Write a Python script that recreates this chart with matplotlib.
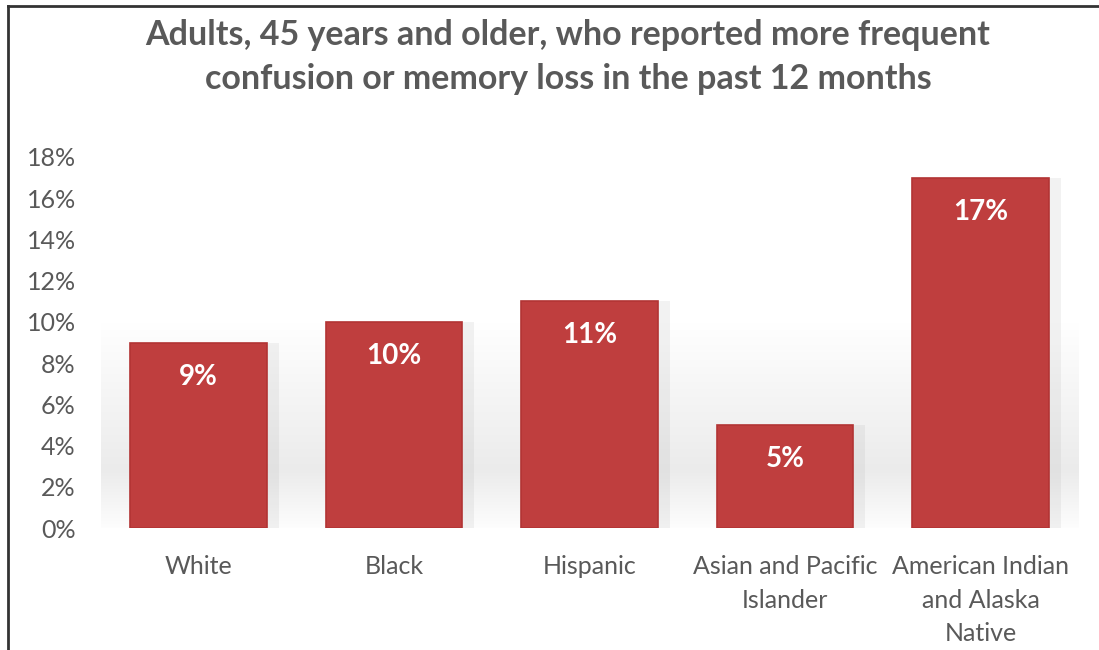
import matplotlib
matplotlib.use("Agg")
import matplotlib.pyplot as plt
import numpy as np

# données
categories = ["White", "Black", "Hispanic", "Asian and Pacific\nIslander",
              "American Indian\nand Alaska\nNative"]
values = [9, 10, 11, 5, 17]
yticks = [0, 2, 4, 6, 8, 10, 12, 14, 16, 18]
title = ("Adults, 45 years and older, who reported more frequent\n"
         "confusion or memory loss in the past 12 months")

plt.rcParams['font.family'] = ['Lato', 'DejaVu Sans']

fig = plt.figure(figsize=(10.99, 6.5), dpi=100)
fig.patch.set_facecolor("white")
ax = fig.add_axes([100.75 / 1099, 1 - 528 / 650, 977.5 / 1099, 371 / 650])
ax.set_facecolor("none")

# léger dégradé gris derrière les barres
grad = np.concatenate([np.linspace(0.0, 1.0, 60), np.linspace(1.0, 0.0, 140)])
gimg = np.zeros((200, 1, 4))
gimg[..., :3] = 0.86
gimg[..., 3] = (grad * 0.55)[:, None]
ax.imshow(gimg, extent=[-0.5, 4.5, -0.3, 10], aspect="auto", origin="lower",
          zorder=0, interpolation="bilinear")

x = np.arange(len(categories))
# ombre portée
ax.bar(x + 0.06, values, width=0.70, color="#9a9a9a", alpha=0.12, zorder=1)
bars = ax.bar(x, values, width=0.70, color="#BF3E3E", edgecolor="#B23434",
              linewidth=1.2, zorder=2)

for xi, v in zip(x, values):
    ax.text(xi, v - 1.65, f"{v}%", ha="center", va="center", color="white",
            fontsize=20, fontweight="bold", zorder=3)

ax.set_xlim(-0.5, len(categories) - 0.5)
ax.set_ylim(0, 18)
ax.set_yticks(yticks)
ax.set_yticklabels([f"{t}%" for t in yticks])
ax.set_xticks(x)
ax.set_xticklabels(categories, linespacing=1.55)
ax.tick_params(axis="both", length=0, labelsize=18, colors="#595959")
ax.tick_params(axis="y", pad=18)
ax.tick_params(axis="x", pad=19.5)
for lab in ax.get_xticklabels():
    lab.set_verticalalignment("top")
for s in ax.spines.values():
    s.set_visible(False)

fig.text(568 / 1099, 1 - 57 / 650, title, ha="center", va="center",
         fontsize=24.5, fontweight="bold", color="#595959", linespacing=1.45)

# cadre (haut et gauche)
fig.add_artist(plt.Line2D([8 / 1099, 8 / 1099], [0, 1 - 6 / 650],
                          color="#333333", lw=2, transform=fig.transFigure))
fig.add_artist(plt.Line2D([8 / 1099, 1], [1 - 6 / 650, 1 - 6 / 650],
                          color="#333333", lw=2, transform=fig.transFigure))

fig.savefig("out.png", dpi=100)
